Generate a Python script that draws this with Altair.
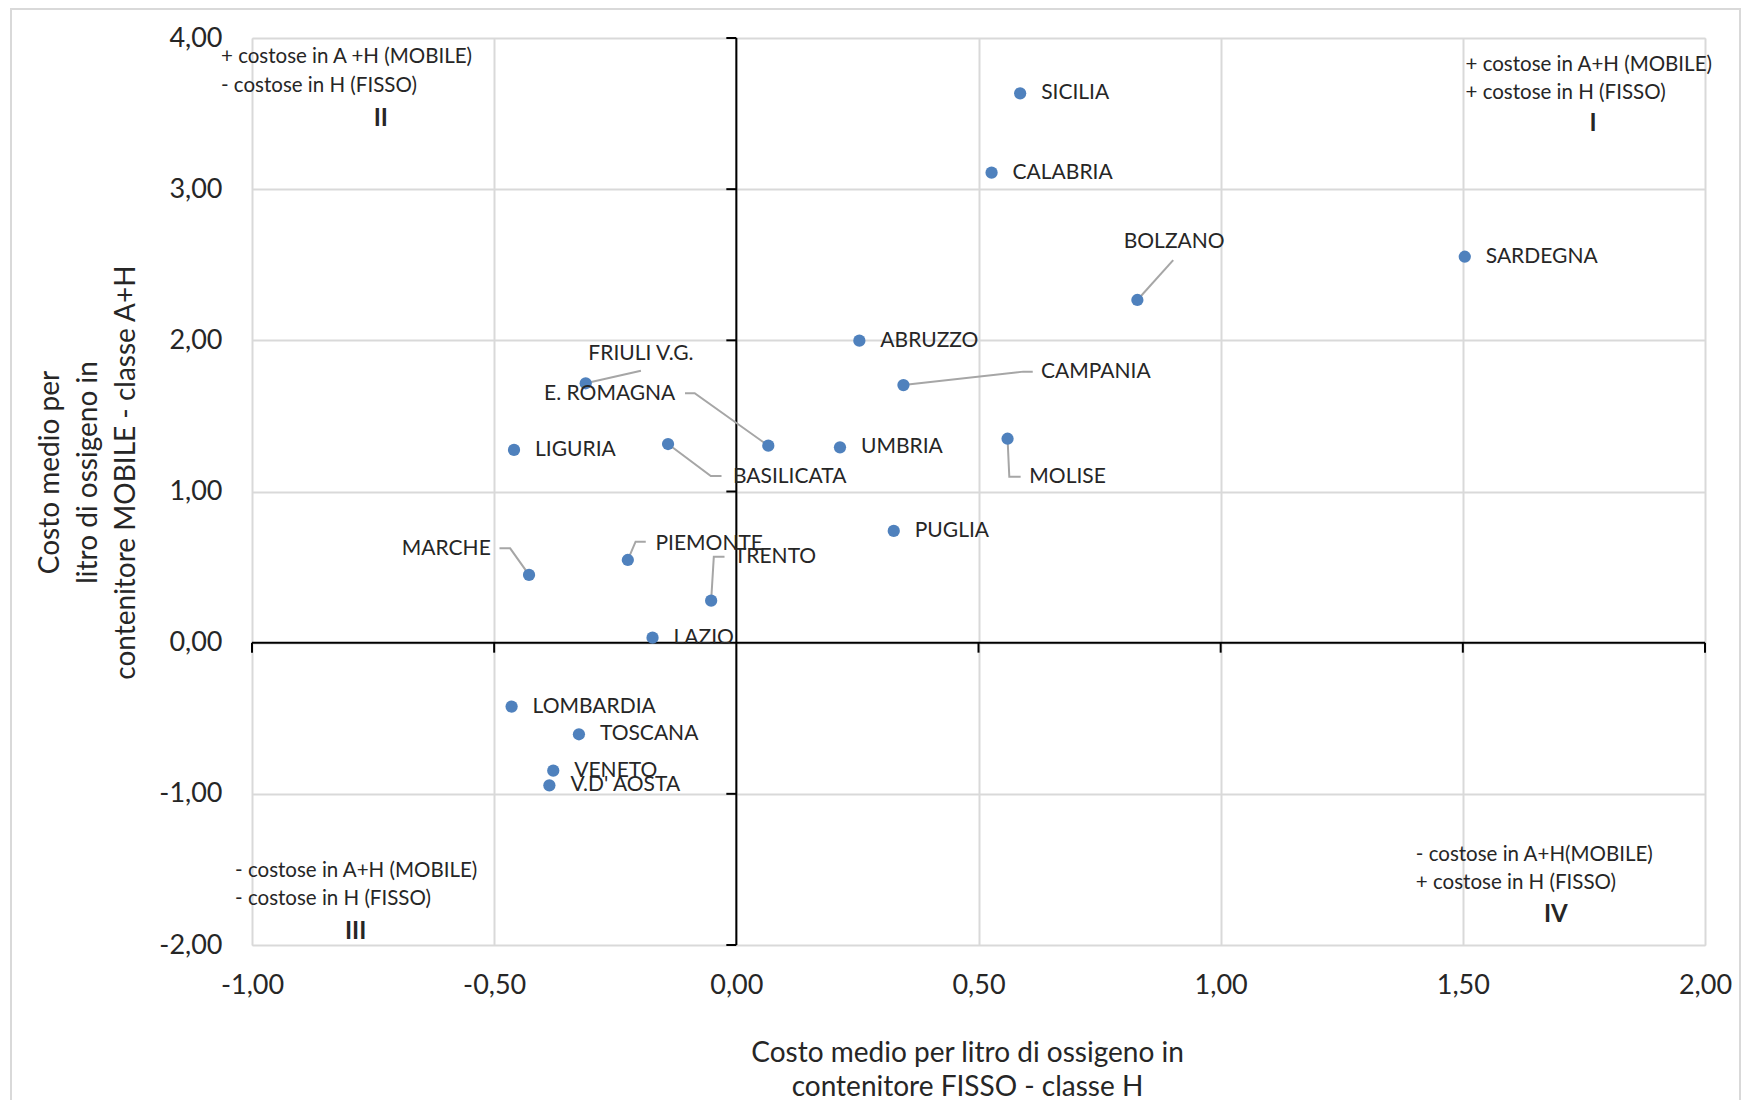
import altair as alt
import pandas as pd

# ---------------- data ----------------
regions = ["SICILIA", "CALABRIA", "BOLZANO", "SARDEGNA", "ABRUZZO", "CAMPANIA",
           "FRIULI V.G.", "E. ROMAGNA", "LIGURIA", "BASILICATA", "UMBRIA", "MOLISE",
           "PUGLIA", "MARCHE", "PIEMONTE", "TRENTO", "LAZIO", "LOMBARDIA",
           "TOSCANA", "VENETO", "V.D' AOSTA"]
fisso = [0.586, 0.527, 0.828, 1.504, 0.254, 0.345, -0.311, 0.066, -0.459, -0.141,
         0.214, 0.560, 0.325, -0.428, -0.224, -0.052, -0.173, -0.464, -0.325,
         -0.378, -0.386]
mobile = [3.634, 3.109, 2.267, 2.553, 1.998, 1.704, 1.716, 1.303, 1.275, 1.314,
          1.292, 1.349, 0.739, 0.448, 0.547, 0.278, 0.033, -0.423, -0.606,
          -0.847, -0.944]

# labels placed away from their point, joined by a leader line
leader_regions = ["BOLZANO", "CAMPANIA", "FRIULI V.G.", "E. ROMAGNA", "BASILICATA",
                  "MARCHE", "PIEMONTE", "TRENTO", "MOLISE"]
leader_label_x = [0.904, 0.629, -0.197, -0.126, -0.007, -0.507, -0.167, -0.005, 0.605]
leader_label_y = [2.649, 1.789, 1.910, 1.645, 1.094, 0.618, 0.653, 0.569, 1.098]
leader_align = ["center", "left", "center", "right", "left", "right", "left", "left", "left"]
leader_elbow_x = [0.902, 0.5925, -0.197, -0.086, -0.0527, -0.467, -0.208, -0.0465, 0.5636]
leader_elbow_y = [2.531, 1.793, 1.799, 1.650, 1.103, 0.624, 0.668, 0.569, 1.098]
leader_end_x = [0.902, 0.612, -0.197, -0.106, -0.0306, -0.489, -0.187, -0.0244, 0.587]
leader_end_y = [2.531, 1.793, 1.799, 1.650, 1.103, 0.624, 0.668, 0.569, 1.098]

x_ticks = [-1.0, -0.5, 0.0, 0.5, 1.0, 1.5, 2.0]
y_ticks = [-2.0, -1.0, 0.0, 1.0, 2.0, 3.0, 4.0]

quad_text = ["+ costose in A +H (MOBILE)", "- costose in H (FISSO)",
             "+ costose in A+H (MOBILE)", "+ costose in H (FISSO)",
             "- costose in A+H (MOBILE)", "- costose in H (FISSO)",
             "- costose in A+H(MOBILE)", "+ costose in H (FISSO)"]
quad_x = [-1.064, -1.064, 1.5055, 1.5055, -1.035, -1.035, 1.403, 1.403]
quad_y = [3.872, 3.684, 3.821, 3.638, -1.508, -1.696, -1.405, -1.588]
roman = ["II", "I", "III", "IV"]
roman_x = [-0.734, 1.769, -0.786, 1.692]
roman_y = [3.464, 3.431, -1.912, -1.802]

x_title = ["Costo medio per litro di ossigeno in", "contenitore FISSO - classe H"]
y_title = ["Costo medio per", "litro di ossigeno in", "contenitore  MOBILE - classe A+H"]

# ---------------- tables ----------------
pts = pd.DataFrame({"region": regions, "fisso": fisso, "mobile": mobile})
simple = pts[~pts["region"].isin(leader_regions)]
ld = pd.DataFrame({"region": leader_regions, "lx": leader_label_x, "ly": leader_label_y,
                   "align": leader_align})
rows = []
for i, r in enumerate(leader_regions):
    p = pts[pts["region"] == r].iloc[0]
    rows.append({"region": r, "step": 0, "fisso": p["fisso"], "mobile": p["mobile"]})
    rows.append({"region": r, "step": 1, "fisso": leader_elbow_x[i], "mobile": leader_elbow_y[i]})
    rows.append({"region": r, "step": 2, "fisso": leader_end_x[i], "mobile": leader_end_y[i]})
leaders = pd.DataFrame(rows)
quads = pd.DataFrame({"fisso": quad_x, "mobile": quad_y, "t": quad_text})
romans = pd.DataFrame({"fisso": roman_x, "mobile": roman_y, "t": roman})
ytk = pd.DataFrame({"mobile": [v for v in y_ticks if v != 0], "fisso": 0.0})
xtk = pd.DataFrame({"fisso": [v for v in x_ticks if v != 0], "mobile": 0.0})
vaxis = pd.DataFrame({"fisso": [0.0], "mobile": [y_ticks[0]], "m2": [y_ticks[-1]]})
haxis = pd.DataFrame({"fisso": [x_ticks[0]], "f2": [x_ticks[-1]], "mobile": [0.0]})

# ---------------- styling ----------------
FONT = "Lato"
TXT = "#262626"
GRID = "#d9d9d9"
lab_expr = "replace(replace(format(datum.value, '.2f'), '.', ','), '\u2212', '-')"

xaxis = alt.Axis(values=x_ticks, grid=True, gridColor=GRID, gridWidth=2, domain=False,
                 ticks=False, labelExpr=lab_expr, labelFont=FONT, labelFontSize=27,
                 labelColor=TXT, labelPadding=27, labelFlush=False, labelOverlap=False,
                 title=x_title, titleFont=FONT, titleFontSize=28, titleFontWeight="normal",
                 titleColor=TXT, titleLineHeight=34, titleX=715, titleY=108,
                 titleAlign="center", titleBaseline="middle", titleAnchor="start")
yaxis = alt.Axis(values=y_ticks, grid=True, gridColor=GRID, gridWidth=2, domain=False,
                 ticks=False, labelExpr=lab_expr, labelFont=FONT, labelFontSize=27,
                 labelColor=TXT, labelPadding=30, labelFlush=False, labelOverlap=False,
                 title=y_title, titleFont=FONT, titleFontSize=28, titleFontWeight="normal",
                 titleColor=TXT, titleLineHeight=38, titleX=-202, titleY=434,
                 titleAlign="center", titleBaseline="middle", titleAngle=270,
                 titleAnchor="start")
xs = alt.Scale(domain=[x_ticks[0], x_ticks[-1]], nice=False, zero=False)
ys = alt.Scale(domain=[y_ticks[0], y_ticks[-1]], nice=False, zero=False)


def X(f="fisso"):
    return alt.X(f"{f}:Q", scale=xs, axis=xaxis)


def Y(f="mobile"):
    return alt.Y(f"{f}:Q", scale=ys, axis=yaxis)


border = alt.Chart(pts).mark_rect(fillOpacity=0, stroke=GRID, strokeWidth=2).encode(
    x=alt.value(-241), x2=alt.value(1488), y=alt.value(-29), y2=alt.value(1300))

base_pts = alt.Chart(pts).mark_circle(size=150, color="#4f81bd", opacity=1).encode(
    x=X(), y=Y())

v_line = alt.Chart(vaxis).mark_rule(color="black", strokeWidth=2).encode(
    x=X(), y=Y(), y2="m2:Q")
h_line = alt.Chart(haxis).mark_rule(color="black", strokeWidth=2).encode(
    x=X(), x2="f2:Q", y=Y())
y_tk = alt.Chart(ytk).mark_rule(color="black", strokeWidth=2, x2Offset=-10).encode(
    x=X(), x2="fisso:Q", y=Y())
x_tk = alt.Chart(xtk).mark_rule(color="black", strokeWidth=2, y2Offset=10).encode(
    x=X(), y=Y(), y2="mobile:Q")

lead = alt.Chart(leaders).mark_line(color="#a6a6a6", strokeWidth=2).encode(
    x=X(), y=Y(), detail="region:N", order="step:Q")

lab_simple = alt.Chart(simple).mark_text(align="left", baseline="middle", dx=21,
                                         font=FONT, fontSize=21, color=TXT).encode(
    x=X(), y=Y(), text="region:N")


def leader_text(al):
    sub = ld[ld["align"] == al]
    return alt.Chart(sub).mark_text(align=al, baseline="middle", font=FONT,
                                    fontSize=21, color=TXT).encode(
        x=X("lx"), y=Y("ly"), text="region:N")


quad_layer = alt.Chart(quads).mark_text(align="left", baseline="middle", font=FONT,
                                        fontSize=20.5, color=TXT).encode(
    x=X(), y=Y(), text="t:N")
roman_layer = alt.Chart(romans).mark_text(align="center", baseline="middle", font=FONT,
                                          fontSize=24, fontWeight="bold", color=TXT).encode(
    x=X(), y=Y(), text="t:N")

chart = alt.layer(
    border, v_line, h_line, y_tk, x_tk, lead, base_pts, lab_simple,
    leader_text("left"), leader_text("right"), leader_text("center"),
    quad_layer, roman_layer
).properties(
    width=1453, height=907,
    autosize=alt.AutoSizeParams(type="none"),
    padding={"left": 244, "top": 30, "right": 39, "bottom": 155},
).configure_view(stroke=None).configure(background="white")

chart.save("out.html", embed_options={"renderer": "svg", "actions": False})
